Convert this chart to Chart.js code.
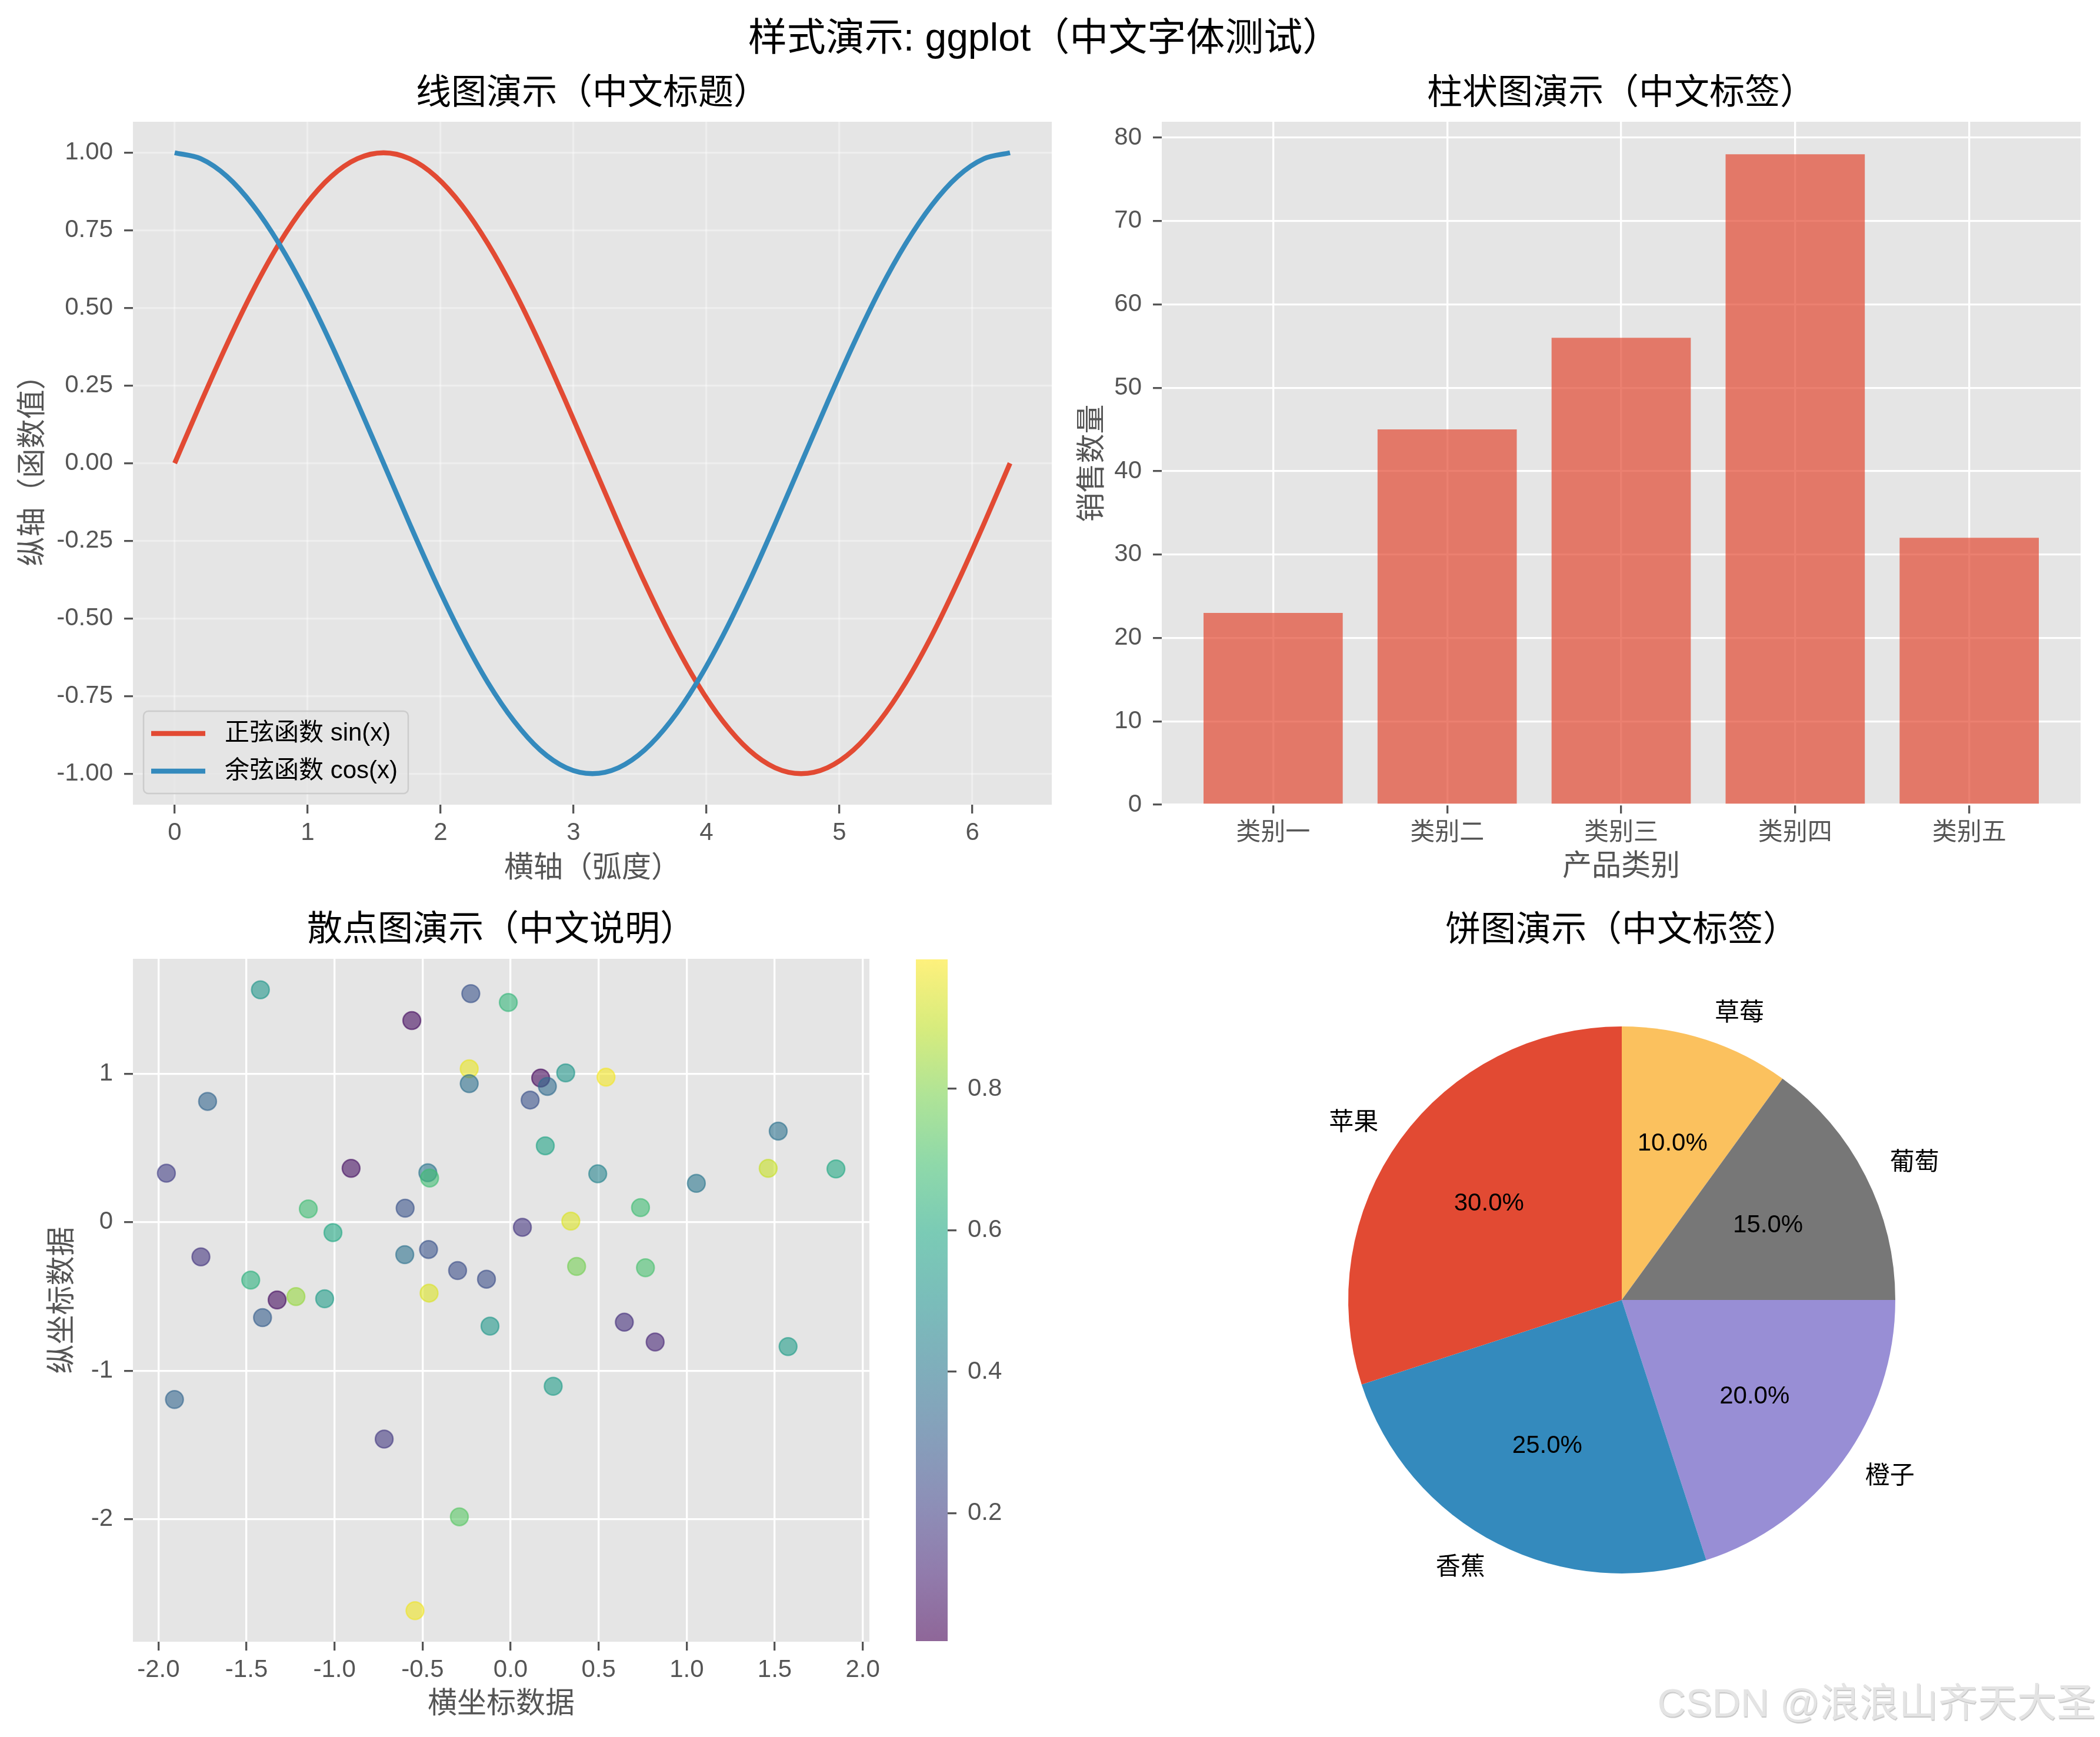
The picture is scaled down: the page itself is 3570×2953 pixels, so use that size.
<!DOCTYPE html>
<html>
<head>
<meta charset="utf-8">
<title>样式演示: ggplot</title>
<script src="https://cdn.jsdelivr.net/npm/chart.js@4.4.1/dist/chart.umd.min.js"></script>
<style>
  html, body { margin: 0; padding: 0; background: #fff; }
  #fig { position: relative; width: 3570px; height: 2953px; overflow: hidden;
         font-family: "Liberation Sans", "Noto Sans CJK TC", "Noto Sans CJK SC", sans-serif; }
  #fig canvas { position: absolute; }
  #suptitle { position: absolute; left: 1776px; top: 30px; transform: translateX(-50%);
              font-size: 66px; line-height: 66px; white-space: nowrap; color: #000; }
  #watermark { position: absolute; right: 7px; top: 2861px; font-size: 67px; line-height: 67px;
               font-family: "Liberation Sans", "Noto Sans CJK SC", sans-serif;
               color: #e4e4e4; text-shadow: 1px 2px 1px #c6c6c6; white-space: nowrap; }
</style>
</head>
<body>
<div id="fig">
  <div id="suptitle">样式演示: ggplot（中文字体测试）</div>
  <canvas id="lineChart" width="1800" height="1530" style="left:0;top:0"></canvas>
  <canvas id="barChart" width="1770" height="1530" style="left:1800px;top:0"></canvas>
  <canvas id="scatterChart" width="1520" height="1423" style="left:0;top:1530px"></canvas>
  <canvas id="colorbar" width="240" height="1423" style="left:1520px;top:1530px"></canvas>
  <canvas id="pieChart" width="1770" height="1423" style="left:1800px;top:1530px"></canvas>
  <div id="watermark">CSDN @浪浪山齐天大圣</div>
</div>
<script>
const FONT = '"Liberation Sans", "Noto Sans CJK SC", sans-serif';
// centred full-width brackets for titles / axis labels
const TITLE_FONT = '"Liberation Sans", "Noto Sans CJK TC", "Noto Sans CJK SC", sans-serif';
const TICK_COLOR = '#555555';

// line plot: sampled curve values (x in radians)
const angleX = [0.000, 0.196, 0.393, 0.589, 0.785, 0.982, 1.178, 1.374, 1.571, 1.767, 1.963,
  2.160, 2.356, 2.553, 2.749, 2.945, 3.142, 3.338, 3.534, 3.731, 3.927, 4.123, 4.320,
  4.516, 4.712, 4.909, 5.105, 5.301, 5.498, 5.694, 5.890, 6.087, 6.283];
const sinValues = [0.000, 0.195, 0.383, 0.556, 0.707, 0.831, 0.924, 0.981, 1.000, 0.981, 0.924,
  0.831, 0.707, 0.556, 0.383, 0.195, 0.000, -0.195, -0.383, -0.556, -0.707, -0.831, -0.924,
  -0.981, -1.000, -0.981, -0.924, -0.831, -0.707, -0.556, -0.383, -0.195, 0.000];
const cosValues = [1.000, 0.981, 0.924, 0.831, 0.707, 0.556, 0.383, 0.195, 0.000, -0.195, -0.383,
  -0.556, -0.707, -0.831, -0.924, -0.981, -1.000, -0.981, -0.924, -0.831, -0.707, -0.556, -0.383,
  -0.195, 0.000, 0.195, 0.383, 0.556, 0.707, 0.831, 0.924, 0.981, 1.000];
const lineSeriesNames = ['正弦函数 sin(x)', '余弦函数 cos(x)'];
const lineXTicks = [0, 1, 2, 3, 4, 5, 6];
const lineYTicks = [-1, -0.75, -0.5, -0.25, 0, 0.25, 0.5, 0.75, 1];

// bar plot
const productCats = ['类别一', '类别二', '类别三', '类别四', '类别五'];
const salesValues = [23, 45, 56, 78, 32];
const barYTicks = [0, 10, 20, 30, 40, 50, 60, 70, 80];

// scatter plot
const scatterX = [-1.421, -0.226, -0.013, -0.561, -0.235, -0.235, -1.721, -1.955, -0.906, -0.470,
  -0.460, -1.149, -0.599, -1.009, -1.759, -0.601, -0.466, -0.301, -0.137, -1.476,
  -0.463, -1.326, -1.219, -1.056, -1.409, -0.117, -1.909, -0.718, -0.291, -0.543,
  0.171, 0.209, 0.313, 0.542, 0.111, 1.520, 0.197, 0.495, 1.463, 1.848,
  1.055, 0.738, 0.342, 0.067, 0.375, 0.766, 0.646, 0.821, 1.576, 0.242];
const scatterY = [1.564, 1.538, 1.479, 1.357, 1.032, 0.932, 0.813, 0.329, 0.362, 0.332,
  0.297, 0.089, 0.094, -0.071, -0.234, -0.219, -0.184, -0.326, -0.384, -0.390,
  -0.478, -0.524, -0.501, -0.516, -0.643, -0.700, -1.194, -1.461, -1.984, -2.616,
  0.970, 0.914, 1.005, 0.976, 0.822, 0.613, 0.514, 0.325, 0.362, 0.358,
  0.261, 0.098, 0.007, -0.035, -0.298, -0.307, -0.674, -0.807, -0.838, -1.105];
const scatterC = [0.52, 0.27, 0.65, 0.05, 0.95, 0.37, 0.33, 0.20, 0.06, 0.40,
  0.68, 0.68, 0.27, 0.60, 0.17, 0.38, 0.27, 0.25, 0.25, 0.63,
  0.93, 0.05, 0.83, 0.55, 0.30, 0.53, 0.33, 0.18, 0.73, 0.96,
  0.04, 0.35, 0.52, 0.97, 0.26, 0.38, 0.58, 0.45, 0.90, 0.60,
  0.40, 0.68, 0.93, 0.17, 0.78, 0.70, 0.15, 0.12, 0.55, 0.55];
const scatterXTicks = [-2, -1.5, -1, -0.5, 0, 0.5, 1, 1.5, 2];
const scatterYTicks = [-2, -1, 0, 1];
const colorRange = [0.019, 0.983];
const colorbarTicks = [0.2, 0.4, 0.6, 0.8];

// pie
const fruitLabels = ['苹果', '香蕉', '橙子', '葡萄', '草莓'];
const fruitShares = [30, 25, 20, 15, 10];

// ggplot colour cycle + viridis stops
const GG = ['#E24A33', '#348ABD', '#988ED5', '#777777', '#FBC15E'];
const VIRIDIS = [[68,1,84],[72,36,117],[65,68,135],[53,95,141],[42,120,142],[33,145,140],
  [34,168,132],[68,191,112],[122,209,81],[189,223,38],[253,231,37]];

function viridis(t) {
  t = Math.min(1, Math.max(0, t));
  const p = t * 10;
  const i = Math.min(9, Math.floor(p));
  const f = p - i;
  return VIRIDIS[i].map((v, k) => Math.round(v + (VIRIDIS[i + 1][k] - v) * f));
}
function cmap(c, alpha) {
  const t = (c - colorRange[0]) / (colorRange[1] - colorRange[0]);
  return 'rgba(' + viridis(t).join(',') + ',' + alpha + ')';
}

Chart.defaults.font.family = FONT;

// grey panel + subplot title
const axesDecor = {
  id: 'axesDecor',
  beforeDraw(chart, args, opts) {
    if (!opts.bg) return;
    const {ctx, chartArea: a} = chart;
    ctx.save();
    ctx.fillStyle = opts.bg;
    ctx.fillRect(a.left, a.top, a.width, a.height);
    ctx.restore();
  },
  afterDraw(chart, args, opts) {
    if (!opts.title) return;
    const {ctx, chartArea: a} = chart;
    ctx.save();
    ctx.font = '60px ' + TITLE_FONT;
    ctx.fillStyle = '#000';
    ctx.textAlign = 'center';
    ctx.textBaseline = 'middle';
    ctx.fillText(opts.title, (a.left + a.right) / 2, opts.titleY);
    ctx.restore();
  }
};

// matplotlib style legend inside the lower left of the panel
const innerLegend = {
  id: 'innerLegend',
  afterDatasetsDraw(chart, args, opts) {
    if (!opts.show) return;
    const {ctx, chartArea: a} = chart;
    const sets = chart.data.datasets;
    ctx.save();
    ctx.font = '42px ' + FONT;
    const textW = Math.max(...sets.map(d => ctx.measureText(d.label).width));
    const x0 = a.left + 18, h = 140, y0 = a.bottom - 19 - h;
    const w = 138 + textW + 18;
    ctx.beginPath();
    ctx.roundRect(x0, y0, w, h, 8);
    ctx.fillStyle = 'rgba(229,229,229,0.8)';
    ctx.fill();
    ctx.strokeStyle = '#cccccc';
    ctx.lineWidth = 2.5;
    ctx.stroke();
    sets.forEach((d, i) => {
      const cy = y0 + 38 + i * 64;
      ctx.beginPath();
      ctx.moveTo(x0 + 13, cy);
      ctx.lineTo(x0 + 105, cy);
      ctx.strokeStyle = d.borderColor;
      ctx.lineWidth = 8.3;
      ctx.stroke();
      ctx.fillStyle = '#000';
      ctx.textBaseline = 'middle';
      ctx.fillText(d.label, x0 + 138, cy);
    });
    ctx.restore();
  }
};

// pie outer labels and percentages
const pieLabels = {
  id: 'pieLabels',
  afterDatasetsDraw(chart, args, opts) {
    if (!opts.labels) return;
    const {ctx} = chart;
    const meta = chart.getDatasetMeta(0);
    const vals = chart.data.datasets[0].data;
    const total = vals.reduce((s, v) => s + v, 0);
    ctx.save();
    ctx.font = '42px ' + FONT;
    ctx.fillStyle = '#000';
    ctx.textBaseline = 'middle';
    meta.data.forEach((arc, i) => {
      const p = arc.getProps(['x', 'y', 'startAngle', 'endAngle', 'outerRadius'], true);
      const mid = (p.startAngle + p.endAngle) / 2;
      const c = Math.cos(mid), s = Math.sin(mid);
      ctx.textAlign = c > 0 ? 'left' : 'right';
      ctx.fillText(opts.labels[i], p.x + c * p.outerRadius * 1.1, p.y + s * p.outerRadius * 1.1);
      ctx.textAlign = 'center';
      ctx.fillText((vals[i] / total * 100).toFixed(1) + '%', p.x + c * p.outerRadius * 0.6, p.y + s * p.outerRadius * 0.6);
    });
    ctx.restore();
  }
};

Chart.register(axesDecor, innerLegend, pieLabels);

function axis(cfg) {
  const horizontal = cfg.position === 'bottom';
  return {
    type: 'linear',
    position: cfg.position,
    min: cfg.min,
    max: cfg.max,
    offset: false,
    afterBuildTicks: ax => { ax.ticks = cfg.ticks.map(v => ({value: v})); },
    afterFit: ax => { if (horizontal) ax.height = cfg.size; else ax.width = cfg.size; },
    ticks: {
      color: TICK_COLOR,
      font: {family: FONT, size: 42},
      padding: horizontal ? 8 : 19,
      autoSkip: false,
      maxRotation: 0,
      callback: cfg.format
    },
    grid: {
      display: true,
      offset: false,
      drawOnChartArea: !!cfg.gridColor,
      color: cfg.gridColor || 'rgba(0,0,0,0)',
      lineWidth: 3.3,
      tickLength: 15,
      tickColor: TICK_COLOR,
      tickWidth: 3.3
    },
    border: {display: false},
    title: cfg.title ? {
      display: true,
      text: cfg.title,
      color: TICK_COLOR,
      font: {family: TITLE_FONT, size: 50},
      padding: horizontal ? {top: 0, bottom: cfg.titlePad} : {top: cfg.titlePad, bottom: 0}
    } : {display: false}
  };
}

const baseOpts = {
  responsive: false,
  maintainAspectRatio: false,
  devicePixelRatio: 1,
  animation: false,
  events: []
};

// line chart
new Chart(document.getElementById('lineChart'), {
  type: 'line',
  data: {
    datasets: [
      {label: lineSeriesNames[0], data: angleX.map((x, i) => ({x: x, y: sinValues[i]})),
       borderColor: GG[0], borderWidth: 8.3, pointRadius: 0, cubicInterpolationMode: 'monotone', order: 1},
      {label: lineSeriesNames[1], data: angleX.map((x, i) => ({x: x, y: cosValues[i]})),
       borderColor: GG[1], borderWidth: 8.3, pointRadius: 0, cubicInterpolationMode: 'monotone', order: 0}
    ]
  },
  options: Object.assign({}, baseOpts, {
    layout: {padding: {top: 207, right: 12, left: 0, bottom: 0}, autoPadding: false},
    scales: {
      x: axis({position: 'bottom', min: -0.314, max: 6.597, ticks: lineXTicks, size: 162,
               format: v => String(v), gridColor: 'rgba(255,255,255,0.35)', title: '横轴（弧度）', titlePad: 23}),
      y: axis({position: 'left', min: -1.1, max: 1.1, ticks: lineYTicks, size: 226,
               format: v => v.toFixed(2), gridColor: 'rgba(255,255,255,0.35)', title: '纵轴（函数值）', titlePad: 27})
    },
    plugins: {
      legend: {display: false}, tooltip: {enabled: false},
      axesDecor: {bg: '#E5E5E5', title: '线图演示（中文标题）', titleY: 160},
      innerLegend: {show: true}
    }
  })
});

// bar chart
new Chart(document.getElementById('barChart'), {
  type: 'bar',
  data: {
    datasets: [{
      data: salesValues.map((v, i) => ({x: i, y: v})),
      backgroundColor: 'rgba(226,74,51,0.7)',
      borderWidth: 0,
      categoryPercentage: 1,
      barPercentage: 0.8
    }]
  },
  options: Object.assign({}, baseOpts, {
    layout: {padding: {top: 207, right: 33, left: 0, bottom: 0}, autoPadding: false},
    scales: {
      x: axis({position: 'bottom', min: -0.64, max: 4.64, ticks: productCats.map((c, i) => i), size: 162,
               format: v => productCats[v], gridColor: '#ffffff', title: '产品类别', titlePad: 26}),
      y: axis({position: 'left', min: 0, max: 81.9, ticks: barYTicks, size: 175,
               format: v => String(v), gridColor: '#ffffff', title: '销售数量', titlePad: 28})
    },
    plugins: {
      legend: {display: false}, tooltip: {enabled: false},
      axesDecor: {bg: '#E5E5E5', title: '柱状图演示（中文标签）', titleY: 160}
    }
  })
});

// scatter chart
const pointColors = scatterC.map(c => cmap(c, 0.6));
new Chart(document.getElementById('scatterChart'), {
  type: 'scatter',
  data: {
    datasets: [{
      data: scatterX.map((x, i) => ({x: x, y: scatterY[i]})),
      backgroundColor: pointColors,
      borderColor: pointColors,
      borderWidth: 2.5,
      pointRadius: 15
    }]
  },
  options: Object.assign({}, baseOpts, {
    layout: {padding: {top: 100, right: 42, left: 0, bottom: 0}, autoPadding: false},
    scales: {
      x: axis({position: 'bottom', min: -2.145, max: 2.038, ticks: scatterXTicks, size: 162,
               format: v => v.toFixed(1), gridColor: '#ffffff', title: '横坐标数据', titlePad: 25}),
      y: axis({position: 'left', min: -2.825, max: 1.773, ticks: scatterYTicks, size: 226,
               format: v => String(v), gridColor: '#ffffff', title: '纵坐标数据', titlePad: 77})
    },
    plugins: {
      legend: {display: false}, tooltip: {enabled: false},
      axesDecor: {bg: '#E5E5E5', title: '散点图演示（中文说明）', titleY: 52}
    }
  })
});

// colorbar: one floating bar spanning the colour range, filled with the map
new Chart(document.getElementById('colorbar'), {
  type: 'bar',
  data: {
    labels: [''],
    datasets: [{
      data: [[colorRange[0], colorRange[1]]],
      borderWidth: 0,
      barPercentage: 1,
      categoryPercentage: 1,
      backgroundColor: context => {
        const a = context.chart.chartArea;
        if (!a) return 'rgba(0,0,0,0)';
        const g = context.chart.ctx.createLinearGradient(0, a.bottom, 0, a.top);
        VIRIDIS.forEach((c, i) => g.addColorStop(i / (VIRIDIS.length - 1), 'rgba(' + c.join(',') + ',0.6)'));
        return g;
      }
    }]
  },
  options: Object.assign({}, baseOpts, {
    layout: {padding: {top: 101, right: 0, left: 37, bottom: 163}, autoPadding: false},
    scales: {
      x: {display: false},
      y: axis({position: 'right', min: colorRange[0], max: colorRange[1], ticks: colorbarTicks, size: 149,
               format: v => v.toFixed(1), gridColor: null})
    },
    plugins: {legend: {display: false}, tooltip: {enabled: false}}
  })
});

// pie chart (Chart.js runs clockwise from the top, so the order is reversed)
const pieOrder = fruitLabels.map((l, i) => i).reverse();
new Chart(document.getElementById('pieChart'), {
  type: 'pie',
  data: {
    labels: pieOrder.map(i => fruitLabels[i]),
    datasets: [{
      data: pieOrder.map(i => fruitShares[i]),
      backgroundColor: pieOrder.map(i => GG[i]),
      borderWidth: 0
    }]
  },
  options: Object.assign({}, baseOpts, {
    layout: {padding: {top: 215, right: 348, left: 492, bottom: 278}, autoPadding: false},
    plugins: {
      legend: {display: false}, tooltip: {enabled: false},
      axesDecor: {title: '饼图演示（中文标签）', titleY: 53},
      pieLabels: {labels: pieOrder.map(i => fruitLabels[i])}
    }
  })
});
</script>
</body>
</html>
